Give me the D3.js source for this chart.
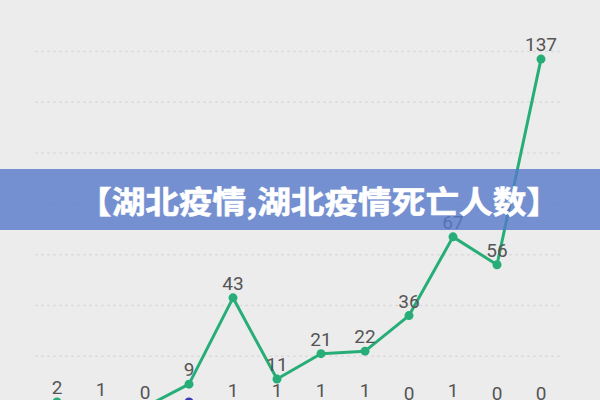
<!DOCTYPE html>
<html>
<head>
<meta charset="utf-8">
<script src="https://cdn.jsdelivr.net/npm/d3@7/dist/d3.min.js"></script>
<style>
  html, body { margin: 0; padding: 0; background: #ececec; }
  svg { display: block; }
</style>
</head>
<body>
<script>
// ---- data ----
const categories = ["1","2","3","4","5","6","7","8","9","10","11","12"];
const greenValues = [2, 1, 0, 9, 43, 11, 21, 22, 36, 67, 56, 137];
const blueValues = [null, null, null, 2, 1, 1, 1, 1, 0, 1, 0, 0];
const yTicks = [20, 40, 60, 80, 100, 120, 140];
const bannerText = "【湖北疫情,湖北疫情死亡人数】";

const W = 600, H = 400;
const svg = d3.select("body").append("svg").attr("width", W).attr("height", H);

svg.append("rect").attr("width", W).attr("height", H).attr("fill", "#ececec");

const x = d3.scalePoint().domain(categories).range([35, 563]).padding(0.5);
const y = d3.scaleLinear().domain([0, 140]).range([407, 51.5]);

// gridlines
svg.append("g").selectAll("line").data(yTicks).join("line")
  .attr("x1", 35).attr("x2", 563)
  .attr("y1", d => y(d)).attr("y2", d => y(d))
  .attr("stroke", "#dcdcdc").attr("stroke-width", 1.5)
  .attr("stroke-dasharray", "3,3");

// blue series
const blueData = categories.map((c, i) => ({c, v: blueValues[i], i})).filter(d => d.v !== null);
svg.append("path").datum(blueData)
  .attr("fill", "none").attr("stroke", "#3b3bb5").attr("stroke-width", 3)
  .attr("d", d3.line().x(d => x(d.c)).y(d => y(d.v)));
svg.append("g").selectAll("circle").data(blueData).join("circle")
  .attr("cx", d => x(d.c)).attr("cy", d => y(d.v)).attr("r", 4.5)
  .attr("fill", "#3b3bb5");

// green series
const greenData = categories.map((c, i) => ({c, v: greenValues[i], i}));
svg.append("path").datum(greenData)
  .attr("fill", "none").attr("stroke", "#27ae78").attr("stroke-width", 3)
  .attr("stroke-linejoin", "round")
  .attr("d", d3.line().x(d => x(d.c)).y(d => y(d.v)));
svg.append("g").selectAll("circle").data(greenData).join("circle")
  .attr("cx", d => x(d.c)).attr("cy", d => y(d.v)).attr("r", 4.5)
  .attr("fill", "#27ae78");

// labels
const labelStyle = sel => sel
  .attr("text-anchor", "middle")
  .attr("font-family", "Roboto, 'Open Sans', sans-serif")
  .attr("font-size", 19)
  .attr("fill", "#555");

svg.append("g").selectAll("text").data(greenData).join("text")
  .attr("x", d => x(d.c)).attr("y", d => y(d.v) - 8)
  .text(d => d.v).call(labelStyle);

// blue labels (skipped where they would collide with the green point)
svg.append("g").selectAll("text")
  .data(blueData.filter(d => Math.abs(y(greenValues[d.i]) - y(d.v)) > 25))
  .join("text")
  .attr("x", d => x(d.c)).attr("y", d => y(d.v) - 7)
  .text(d => d.v).call(labelStyle);

// banner
svg.append("rect").attr("x", 0).attr("y", 169).attr("width", W).attr("height", 61)
  .attr("fill", "rgb(86,121,201)").attr("fill-opacity", 0.8);
svg.append("text")
  .attr("x", 78).attr("y", 199)
  .attr("dominant-baseline", "central")
  .attr("font-family", "'Noto Sans CJK SC', sans-serif")
  .attr("font-weight", "bold")
  .attr("font-size", 31)
  .attr("fill", "#ffffff")
  .attr("stroke", "#ffffff").attr("stroke-width", 0.6)
  .attr("textLength", 482)
  .attr("lengthAdjust", "spacingAndGlyphs")
  .text(bannerText);
</script>
</body>
</html>
